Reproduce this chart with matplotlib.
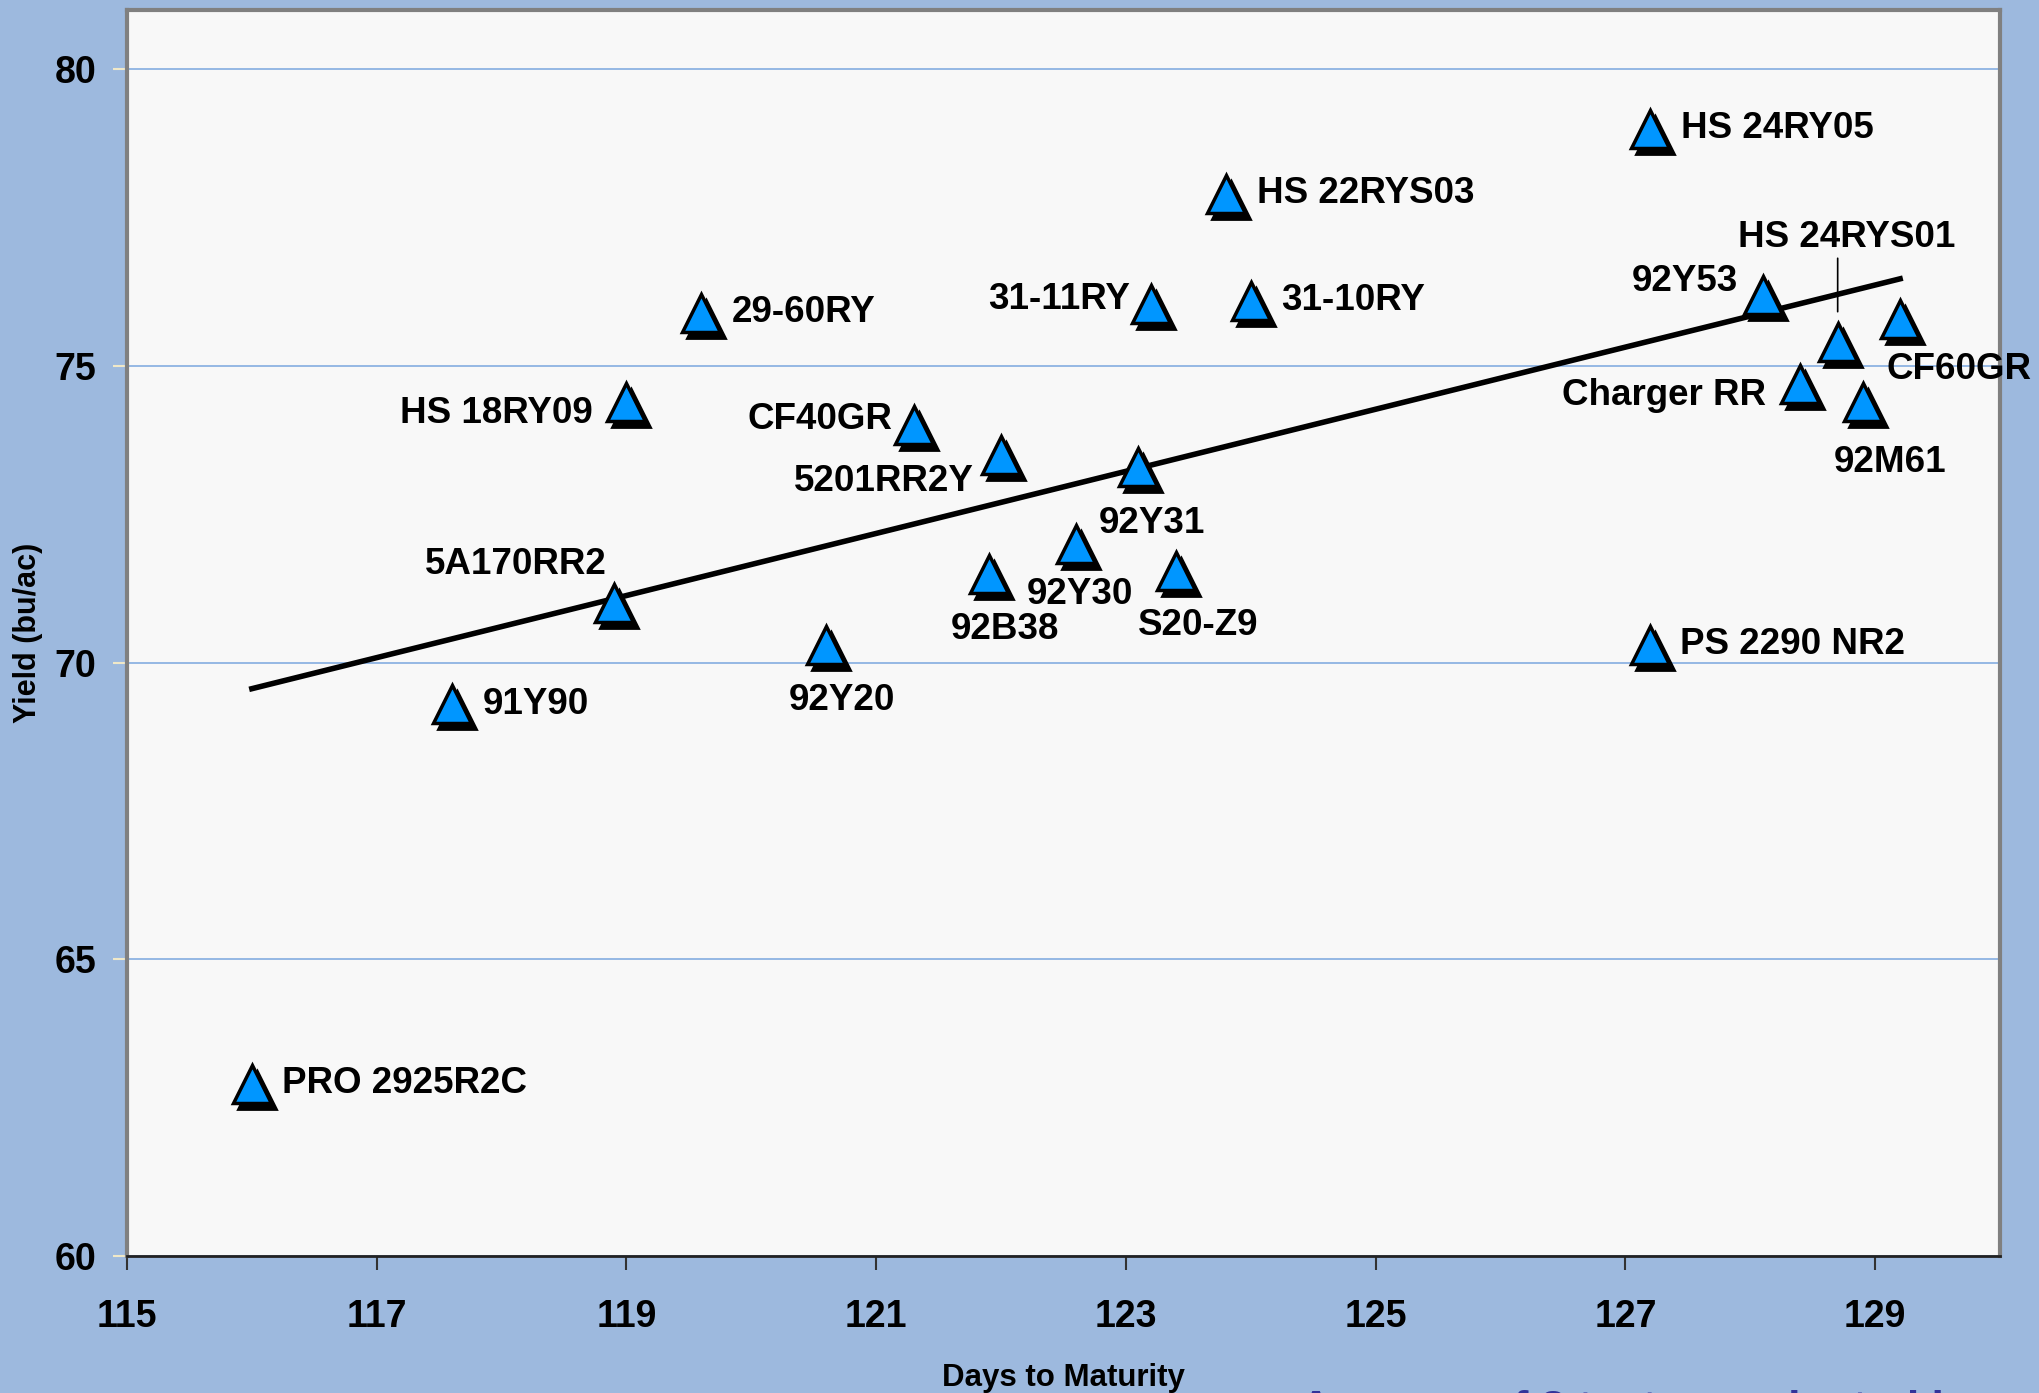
import numpy as np
import matplotlib
matplotlib.use('Agg')
import matplotlib.pyplot as plt
from matplotlib.transforms import offset_copy

plt.rcParams['font.family'] = ['Liberation Sans', 'DejaVu Sans']
plt.rcParams['font.weight'] = 'bold'

# hybrids: days to maturity vs yield (bu/ac)
names = ['PRO 2925R2C', '91Y90', '5A170RR2', 'HS 18RY09', '29-60RY', '92Y20',
         'CF40GR', '5201RR2Y', '92B38', '92Y30', '92Y31', 'S20-Z9', '31-11RY',
         'HS 22RYS03', '31-10RY', 'HS 24RY05', 'PS 2290 NR2', '92Y53',
         'Charger RR', 'HS 24RYS01', '92M61', 'CF60GR']
days = [116.0, 117.6, 118.9, 119.0, 119.6, 120.6, 121.3, 122.0, 121.9, 122.6,
        123.1, 123.4, 123.2, 123.8, 124.0, 127.2, 127.2, 128.1, 128.4, 128.7,
        128.9, 129.2]
yld = [62.9, 69.3, 71.0, 74.4, 75.9, 70.3, 74.0, 73.5, 71.5, 72.0, 73.3, 71.55,
       76.05, 77.9, 76.1, 79.0, 70.3, 76.2, 74.7, 75.4, 74.4, 75.8]

xticks = [115, 117, 119, 121, 123, 125, 127, 129]
yticks = [60, 65, 70, 75, 80]

# label placement: (dx, dy) in pixels, horizontal alignment
lab_pos = [(30, 0, 'left'), (31, 0, 'left'), (-7, 39, 'right'), (-34, -12, 'right'),
           (30, 0, 'left'), (16, -56, 'center'), (-21, 6, 'right'), (-27, -27, 'right'),
           (16, -56, 'center'), (4, -51, 'center'), (14, -57, 'center'), (22, -55, 'center'),
           (-21, 4, 'right'), (31, 0, 'left'), (30, 0, 'left'), (31, 0, 'left'),
           (30, 0, 'left'), (-25, 13, 'right'), (-34, -12, 'right'), (9, 105, 'center'),
           (27, -61, 'center'), (-14, -51, 'left')]

bg = '#9DB9DE'
fig = plt.figure(figsize=(20.39, 13.93), dpi=100, facecolor=bg)
ax = fig.add_axes([127 / 2039, 1 - 1256 / 1393, (2000 - 127) / 2039, (1256 - 10) / 1393])
ax.set_facecolor('#F8F8F8')

ax.set_xlim(115, 130)
ax.set_ylim(60, 81)
ax.set_yticks(yticks)
ax.set_xticks(xticks)
ax.yaxis.grid(True, color='#8DB3E2', lw=1.3)
ax.set_axisbelow(True)

# trend line
k, b = np.polyfit(days, yld, 1)
xs = np.array([min(days), max(days)])
ax.plot(xs, k * xs + b, color='black', lw=4, zorder=2)

# shadows + markers
shadow = offset_copy(ax.transData, fig=fig, x=5, y=-6, units='dots')
ax.plot(days, yld, '^', ms=27, color='black', mec='black', mew=2,
        transform=shadow, zorder=3)
ax.plot(days, yld, '^', ms=27, color='#0096FF', mec='black', mew=2.5, zorder=4)

for n, x, y, (dx, dy, ha) in zip(names, days, yld, lab_pos):
    ax.annotate(n, (x, y), xytext=(dx, dy), textcoords='offset pixels',
                ha=ha, va='center', fontsize=26.5, fontweight='bold', zorder=5,
                annotation_clip=False)

# leader line for HS 24RYS01
i = names.index('HS 24RYS01')
ax.annotate('', (days[i], yld[i]), xytext=(0, 84), textcoords='offset pixels',
            arrowprops=dict(arrowstyle='-', color='black', lw=1.2,
                            shrinkA=0, shrinkB=22))

for s in ['left', 'top', 'right']:
    ax.spines[s].set_color('#808080')
    ax.spines[s].set_linewidth(3)
ax.spines['bottom'].set_color('#222222')
ax.spines['bottom'].set_linewidth(2)

ax.tick_params(axis='y', length=10, width=1.5, color='#F0E8C8', labelsize=27, pad=12)
ax.tick_params(axis='x', length=10, width=1.5, color='#333333', labelsize=27, pad=21)
for t in ax.get_xticklabels() + ax.get_yticklabels():
    t.set_fontweight('bold')

ax.set_xlabel('Days to Maturity', fontsize=22.5, fontweight='bold', labelpad=20)
ax.set_ylabel('Yield (bu/ac)', fontsize=22, fontweight='bold')
ax.yaxis.set_label_coords(-0.045, 0.5)

fig.text(1300 / 2039, -0.0205, 'Average of 8 tests conducted in', color='#333399',
         fontsize=32, fontweight='bold', ha='left', va='baseline')

plt.savefig('out.png', dpi=100, facecolor=bg)
